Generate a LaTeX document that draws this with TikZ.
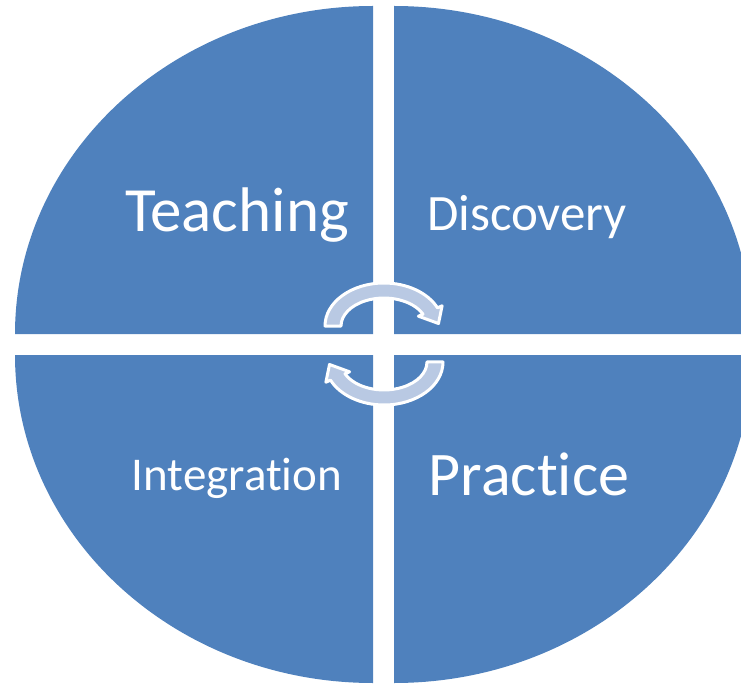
\documentclass[tikz,border=0pt]{standalone}
\usepackage{fontspec}
\setmainfont{Carlito}[Ligatures={NoCommon}]
\definecolor{segblue}{HTML}{4F81BD}
\definecolor{arrowfill}{HTML}{B9C9E3}
\begin{document}
\begin{tikzpicture}[x=1pt, y=-1pt, line join=round,
	seg/.style={fill=segblue},
	cyc/.style={fill=arrowfill, draw=white, line width=3pt},
	lbl/.style={text=white, anchor=base, inner sep=0pt}]
	\def\rx{358} \def\ry{328} % quarter radii
	\useasboundingbox (0,0) rectangle (741,684);
	\clip (0,0) rectangle (741,684);
	% four quarters
	\foreach \cx/\cy/\a in {373/334/180, 394/334/270, 394/355/0, 373/355/90}
		\fill[seg] (\cx,\cy) -- ++(\a:{\rx} and {\ry}) arc[start angle=\a, delta angle=90, x radius=\rx, y radius=\ry] -- cycle;
	% labels
	\node[lbl, font=\fontsize{63}{70}\selectfont] (teach) at (237,232) {Teaching};
	\node[lbl, font=\fontsize{51}{60}\selectfont] (disc) at (527,231) {Discovery};
	\node[lbl, font=\fontsize{47}{56}\selectfont] (integ) at (237,490) {Integration};
	\node[lbl, font=\fontsize{62}{70}\selectfont] (prac) at (529,495) {Practice};
	% circular arrows
	\foreach \r in {0,180}{
		\begin{scope}[shift={(384,344)}, rotate=\r]
			\draw[cyc] (-59,-18) arc[start angle=180, end angle=335, x radius=59, y radius=43]
				-- (58.1,-38.2) -- (54.5,-20.5) -- (34.4,-27.8) -- (39.0,-29.8)
				arc[start angle=335, end angle=180, x radius=43, y radius=28] -- cycle;
		\end{scope}}
\end{tikzpicture}
\end{document}
